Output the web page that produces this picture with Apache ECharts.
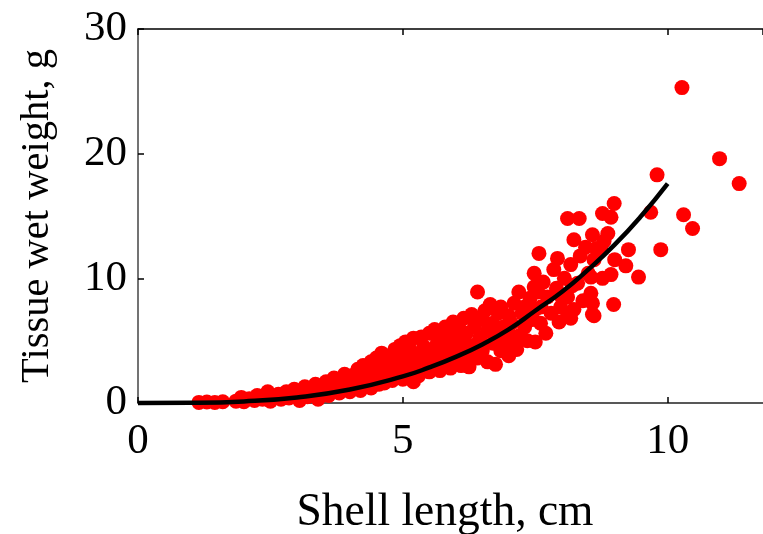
<!DOCTYPE html>
<html>
<head>
<meta charset="utf-8">
<script src="https://cdn.jsdelivr.net/npm/echarts@6/dist/echarts.min.js"></script>
<style>
html,body{margin:0;padding:0;background:#fff;}
#chart{width:763px;height:534px;}
</style>
</head>
<body>
<div id="chart"></div>
<script>
// Measured data points: [shell length (cm), tissue wet weight (g)]
const observations = [
[1.15,0.05],[1.3,0.08],[1.45,0.05],[1.6,0.1],
[1.85,0.15],[1.95,0.45],[2.0,0.1],[2.1,0.35],[2.2,0.2],[2.25,0.6],[2.35,0.3],[2.45,0.9],[2.5,0.15],[2.55,0.5],[2.65,0.7],[2.7,0.3],[2.8,0.9],[2.85,0.4],[2.95,1.1],[3.0,0.6],
[3.05,0.2],[3.1,0.9],[3.15,1.3],[3.2,0.5],[3.3,1.0],[3.35,1.5],[3.4,0.3],[3.45,0.8],[3.5,1.3],[3.55,1.7],[3.6,0.6],[3.65,1.1],[3.7,2.0],[3.75,1.4],[3.8,0.8],[3.85,1.8],[3.9,2.3],[3.95,1.2],[4.0,0.9],[4.0,1.7],
[4.05,2.2],[4.1,1.3],[4.15,2.7],[4.2,1.0],[4.2,1.9],[4.25,3.0],[4.3,1.5],[4.35,2.4],[4.4,3.3],[4.4,1.2],[4.45,2.0],[4.5,2.8],[4.5,3.6],[4.55,1.5],[4.6,2.3],[4.6,4.0],[4.65,1.6],[4.7,3.1],[4.7,2.0],[4.75,3.8],[4.8,2.6],[4.8,1.8],[4.85,4.3],[4.9,3.2],[4.9,2.2],[4.95,4.6],[5.0,2.8],[5.0,3.8],[5.0,1.9],
[5.05,4.9],[5.1,3.3],[5.1,2.4],[5.15,4.2],[5.2,1.7],[5.2,5.2],[5.25,3.0],[5.3,3.8],[5.3,2.2],[5.35,5.3],[5.4,4.5],[5.4,2.8],[5.45,3.4],[5.5,5.6],[5.5,2.5],[5.55,4.1],[5.6,5.9],[5.6,3.0],[5.65,4.8],[5.7,3.6],[5.7,2.6],[5.75,5.4],[5.8,4.2],[5.8,6.1],[5.85,3.2],[5.9,5.0],[5.9,2.8],[5.95,6.5],[6.0,4.4],[6.0,3.6],[6.0,5.6],
[6.05,6.2],[6.1,3.0],[6.1,4.9],[6.15,6.8],[6.2,3.9],[6.2,5.6],[6.25,2.9],[6.3,4.6],[6.3,7.1],[6.35,6.1],[6.4,3.6],[6.41,8.9],[6.45,5.2],[6.5,6.7],[6.5,4.2],[6.55,7.4],[6.6,3.3],[6.6,5.8],[6.65,7.9],[6.7,4.8],[6.7,6.4],[6.75,3.1],[6.8,7.2],[6.8,5.5],[6.85,4.2],[6.85,7.7],[6.9,6.1],[6.95,4.9],[7.0,7.0],[7.0,3.8],[7.0,5.6],
[7.05,6.4],[7.1,8.0],[7.1,4.6],[7.15,4.3],[7.19,8.9],[7.2,5.4],[7.25,7.2],[7.3,6.1],[7.3,7.7],[7.35,5.0],[7.4,8.4],[7.45,6.7],[7.48,10.4],[7.48,9.3],[7.5,4.9],[7.5,7.5],[7.55,8.9],[7.57,12.0],[7.6,6.4],[7.61,7.7],[7.65,9.7],[7.7,5.6],[7.73,8.5],[7.8,7.2],[7.85,10.7],[7.9,9.2],[7.92,11.6],[7.95,6.5],[7.98,7.7],[8.0,8.5],
[8.05,10.0],[8.11,7.0],[8.11,8.5],[8.11,14.8],[8.17,6.8],[8.17,11.1],[8.2,9.4],[8.23,13.1],[8.23,7.5],[8.3,9.6],[8.33,14.8],[8.35,11.8],[8.4,8.2],[8.45,12.5],[8.5,10.4],[8.55,8.8],[8.55,10.1],[8.58,13.5],[8.58,7.1],[8.58,8.0],[8.61,11.5],[8.61,7.0],[8.65,12.4],[8.74,12.3],[8.77,10.0],[8.77,15.2],[8.8,13.0],[8.87,13.6],[8.93,10.3],[8.93,14.9],[8.98,7.9],[8.99,16.0],[9.0,11.5],
[9.21,11.0],[9.26,12.3],[9.45,10.1],[9.68,15.3],[9.80,18.3],[9.87,12.3],[10.27,25.3],[10.30,15.1],[10.47,14.0],[10.98,19.6],[11.35,17.6]
];
// Fitted curve
const fitLength = [0, 1, 2, 3, 4, 5, 5.5, 6, 6.5, 7, 7.5, 8, 8.5, 9, 9.5, 10];
const fitWeight = [0, 0.016, 0.13, 0.45, 1.08, 2.13, 2.85, 3.7, 4.7, 5.9, 7.4, 8.9, 10.7, 12.7, 15.0, 17.6];
const xTicks = [0, 5, 10];
const yTicks = [0, 10, 20, 30];
const xTitle = 'Shell length, cm';
const yTitle = 'Tissue wet weight, g';

const fitData = fitLength.map((x, i) => [x, fitWeight[i]]);
const serif = "'Liberation Serif', 'Times New Roman', serif";

const chart = echarts.init(document.getElementById('chart'), null, {renderer: 'canvas'});
chart.setOption({
  animation: false,
  backgroundColor: '#ffffff',
  grid: {left: 138, top: 29, width: 625, height: 374, containLabel: false, outerBoundsMode: 'none'},
  xAxis: [{
    type: 'value', min: 0, max: 11.8, interval: 5, position: 'bottom',
    name: xTitle, nameLocation: 'middle', nameGap: 87,
    nameTextStyle: {fontFamily: serif, fontSize: 45.5, color: '#000', padding: [0, 11, 0, 0]},
    axisLine: {show: true, lineStyle: {color: '#222', width: 1.5}},
    axisTick: {show: true, inside: true, length: 6, lineStyle: {color: '#000', width: 1.5}},
    axisLabel: {fontFamily: serif, fontSize: 43, color: '#000', margin: 17, showMaxLabel: false,
      formatter: v => xTicks.includes(v) ? String(v) : ''},
    splitLine: {show: false}
  }, {
    type: 'value', min: 0, max: 11.8, interval: 5, position: 'top',
    axisLine: {show: true, lineStyle: {color: '#000', width: 1.5}},
    axisTick: {show: true, inside: true, length: 6, lineStyle: {color: '#000', width: 1.5}},
    axisLabel: {show: false}, splitLine: {show: false}
  }],
  yAxis: [{
    type: 'value', min: 0, max: 30, interval: 10,
    name: yTitle, nameLocation: 'middle', nameGap: 80, nameRotate: 90,
    nameTextStyle: {fontFamily: serif, fontSize: 40.5, color: '#000'},
    axisLine: {show: true, lineStyle: {color: '#444', width: 1.5}},
    axisTick: {show: true, inside: true, length: 6, lineStyle: {color: '#000', width: 1.5}},
    axisLabel: {fontFamily: serif, fontSize: 43, color: '#000', margin: 11, padding: [14, 0, 0, 0],
      formatter: v => yTicks.includes(v) ? String(v) : ''},
    splitLine: {show: false}
  }],
  series: [{
    type: 'scatter', xAxisIndex: 0, yAxisIndex: 0, data: observations,
    symbol: 'circle', symbolSize: 15, clip: false,
    itemStyle: {color: '#ff0000', opacity: 1}, z: 2
  }, {
    type: 'line', xAxisIndex: 0, yAxisIndex: 0, data: fitData,
    smooth: true, showSymbol: false, clip: false,
    lineStyle: {color: '#000', width: 4.5}, z: 3
  }]
});
</script>
</body>
</html>
